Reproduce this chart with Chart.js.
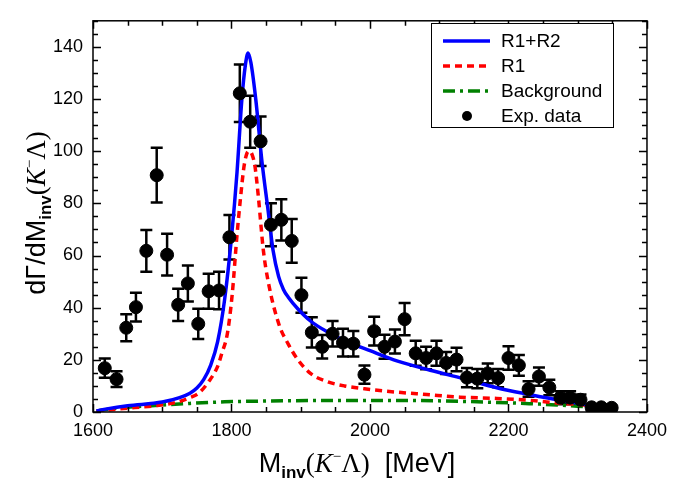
<!DOCTYPE html>
<html>
<head>
<meta charset="utf-8">
<script src="https://cdn.jsdelivr.net/npm/chart.js@4.4.1/dist/chart.umd.min.js"></script>
<style>
  html, body { margin: 0; padding: 0; background: #fff; }
  #wrap { width: 675px; height: 488px; }
</style>
</head>
<body>
<div id="wrap"><canvas id="spectrum" width="675" height="488"></canvas></div>
<script>
// experimental points (M_inv in MeV, rate, error)
const expMass = [1617, 1634, 1648, 1662, 1677, 1692, 1707, 1723, 1737, 1752, 1767, 1782, 1797,
  1812, 1827, 1842, 1857, 1872, 1887, 1901, 1916, 1931, 1946, 1961, 1976, 1992, 2006, 2021,
  2036, 2050, 2066, 2081, 2096, 2110, 2125, 2140, 2155, 2170, 2185, 2200, 2215, 2229, 2244,
  2259, 2275, 2289, 2304, 2320, 2334, 2349];
const expRate = [16.8, 12.6, 32.3, 40.2, 61.8, 90.8, 60.3, 41.1, 49.3, 33.8, 46.3, 46.6, 67,
  122.2, 111.3, 103.8, 71.8, 73.7, 65.6, 44.8, 30.5, 25, 30, 26.6, 26.2, 14.3, 31, 25,
  27, 35.6, 22.5, 20.7, 22.5, 18.8, 20.1, 13.2, 12.8, 14.8, 13, 20.7, 17.9, 8.8, 13.6,
  9.4, 5.5, 5.5, 4.7, 1.8, 1.8, 1.6];
const expErr = [3.7, 3, 5.2, 5.5, 8, 10.5, 8, 6.2, 6.9, 5.8, 6.7, 7.2, 8.5,
  11, 10, 9.5, 8.2, 7.9, 8.4, 6.7, 5.8, 4.5, 4.9, 5.3, 4.9, 3.5, 5.5, 4.6,
  4.6, 6.2, 4.8, 4.3, 4.8, 4.2, 4.5, 3.7, 3.7, 3.8, 3.5, 4.5, 4, 3, 3.5,
  3, 2.5, 2.5, 2, 1.2, 1, 0.8];

// R1+R2 curve
const totalMass = [1605, 1620, 1650, 1700, 1725, 1740, 1750, 1760, 1770, 1780, 1790, 1800, 1808,
  1815, 1820, 1824, 1828, 1835, 1844, 1853, 1860, 1868, 1875, 1882, 1896, 1915, 1940, 1963,
  2000, 2040, 2087, 2135, 2183, 2230, 2278, 2307, 2345, 2357];
const totalRate = [0.4, 1.2, 2.4, 3.8, 5.5, 7.2, 9.2, 12.5, 18, 27, 43, 67, 92,
  120, 133, 137.7, 134, 120, 96, 77, 62, 52, 47, 44, 39.5, 34.7, 30.5, 27.4,
  23.5, 19.5, 16, 12.8, 9.3, 6.7, 4.3, 3.1, 1.2, 0.6];

// R1 curve
const r1Mass = [1605, 1630, 1660, 1690, 1720, 1740, 1753, 1767, 1780, 1786, 1794, 1801, 1808,
  1813, 1818, 1822, 1826, 1830, 1834, 1839, 1846, 1853, 1868, 1882, 1896, 1915, 1939, 1963,
  1992, 2035, 2082, 2130, 2183, 2230, 2278, 2307, 2350];
const r1Rate = [0.3, 1.0, 1.7, 2.4, 3.7, 5.5, 7.3, 11.6, 17.5, 22.5, 30, 45, 68,
  82, 94, 99, 100, 98.5, 94, 82, 62, 50, 34, 26, 20, 14.6, 11.6, 10,
  8.9, 7.7, 6.7, 5.7, 5.2, 4.5, 3.3, 2.8, 1.5];

// background curve
const bgMass = [1605, 1620, 1650, 1690, 1740, 1790, 1850, 1950, 2050, 2130, 2180, 2230, 2270, 2310, 2340, 2355];
const bgRate = [0.3, 1.0, 1.8, 2.5, 3.3, 3.9, 4.2, 4.4, 4.4, 4.1, 3.7, 3.2, 2.7, 2.0, 1.0, 0.3];

const xTicks = [1600, 1800, 2000, 2200, 2400];
const yTicks = [0, 20, 40, 60, 80, 100, 120, 140];

const SANS = "'Liberation Sans', Arial, sans-serif";
const SERIF = "'Liberation Serif', 'Times New Roman', serif";

function toPoints(xs, ys) {
  return xs.map((x, i) => ({ x: x, y: ys[i] }));
}

// draw a row of text pieces (for sub/superscripts)
function piecesWidth(ctx, pieces) {
  let w = 0;
  pieces.forEach(p => { ctx.font = p.font; w += ctx.measureText(p.t).width; });
  return w;
}
function drawPieces(ctx, pieces, x, y) {
  pieces.forEach(p => {
    ctx.font = p.font;
    ctx.fillText(p.t, x, y + (p.dy || 0));
    x += ctx.measureText(p.t).width;
  });
}

function massPieces(lead) {
  return [
    { t: lead, font: "27px " + SANS },
    { t: "inv", font: "bold 17px " + SANS, dy: 6 },
    { t: "(", font: "27px " + SERIF },
    { t: "K", font: "italic 27px " + SERIF },
    { t: "\u2212", font: "15px " + SERIF, dy: -11 },
    { t: "\u039B", font: "27px " + SERIF },
    { t: ")", font: "27px " + SERIF }
  ];
}

const framePlugin = {
  id: "frame",
  beforeDatasetsDraw(chart) {
    // error bars under the markers
    const ctx = chart.ctx;
    const xs = chart.scales.x, ys = chart.scales.y;
    ctx.save();
    ctx.strokeStyle = "#000";
    ctx.lineWidth = 2.5;
    expMass.forEach((m, i) => {
      const px = xs.getPixelForValue(m);
      const top = ys.getPixelForValue(expRate[i] + expErr[i]);
      const bot = ys.getPixelForValue(Math.max(expRate[i] - expErr[i], 0));
      ctx.beginPath();
      ctx.moveTo(px, top); ctx.lineTo(px, bot);
      ctx.moveTo(px - 6, top); ctx.lineTo(px + 6, top);
      ctx.moveTo(px - 6, bot); ctx.lineTo(px + 6, bot);
      ctx.stroke();
    });
    ctx.restore();
  },
  afterDraw(chart) {
    const ctx = chart.ctx;
    const a = chart.chartArea;
    const xs = chart.scales.x, ys = chart.scales.y;
    ctx.save();
    ctx.strokeStyle = "#000";
    ctx.lineWidth = 1.5;
    ctx.strokeRect(a.left, a.top, a.right - a.left, a.bottom - a.top);

    // inward ticks on all four sides
    ctx.beginPath();
    for (let v = xs.min; v <= xs.max; v += 50) {
      const px = Math.round(xs.getPixelForValue(v)) + 0.5;
      const len = v % 200 === 0 ? 8 : 5;
      ctx.moveTo(px, a.bottom); ctx.lineTo(px, a.bottom - len);
      ctx.moveTo(px, a.top); ctx.lineTo(px, a.top + len);
    }
    for (let v = ys.min; v <= ys.max; v += 5) {
      const py = Math.round(ys.getPixelForValue(v)) + 0.5;
      const len = v % 20 === 0 ? 8 : 5;
      ctx.moveTo(a.left, py); ctx.lineTo(a.left + len, py);
      ctx.moveTo(a.right, py); ctx.lineTo(a.right - len, py);
    }
    ctx.stroke();

    // legend box
    const bx = 431, by = 23, bw = 182, bh = 104;
    ctx.fillStyle = "#fff";
    ctx.fillRect(bx, by, bw, bh);
    ctx.lineWidth = 1;
    ctx.strokeRect(bx + 0.5, by + 0.5, bw, bh);
    const rows = [41, 66, 91, 116];
    chart.data.datasets.forEach((ds, i) => {
      const y = rows[i];
      ctx.save();
      if (ds.showLine) {
        ctx.strokeStyle = ds.borderColor;
        ctx.lineWidth = ds.borderWidth;
        ctx.setLineDash(ds.borderDash || []);
        ctx.beginPath();
        ctx.moveTo(443, y); ctx.lineTo(490, y);
        ctx.stroke();
      } else {
        ctx.fillStyle = "#000";
        ctx.beginPath();
        ctx.arc(467, y, 5, 0, Math.PI * 2);
        ctx.fill();
      }
      ctx.restore();
      ctx.fillStyle = "#000";
      ctx.font = "19px " + SANS;
      ctx.textBaseline = "middle";
      ctx.fillText(ds.label, 501, y + 1);
    });

    // axis titles
    ctx.fillStyle = "#000";
    ctx.textBaseline = "alphabetic";
    const xt = massPieces("M").concat([{ t: "  [MeV]", font: "27px " + SANS }]);
    const xw = piecesWidth(ctx, xt);
    drawPieces(ctx, xt, 357 - xw / 2, 472);

    const yt = massPieces("d\u0393/dM");
    const yw = piecesWidth(ctx, yt);
    ctx.translate(45, 213);
    ctx.rotate(-Math.PI / 2);
    drawPieces(ctx, yt, -yw / 2, 0);
    ctx.restore();
  }
};

const ctx = document.getElementById("spectrum").getContext("2d");
new Chart(ctx, {
  type: "scatter",
  data: {
    datasets: [
      {
        label: "R1+R2",
        data: toPoints(totalMass, totalRate),
        showLine: true,
        borderColor: "#0000ff",
        borderWidth: 3.5,
        pointRadius: 0,
        cubicInterpolationMode: "monotone",
        order: 1
      },
      {
        label: "R1",
        data: toPoints(r1Mass, r1Rate),
        showLine: true,
        borderColor: "#ff0000",
        borderWidth: 3.5,
        borderDash: [7, 5],
        pointRadius: 0,
        cubicInterpolationMode: "monotone",
        order: 2
      },
      {
        label: "Background",
        data: toPoints(bgMass, bgRate),
        showLine: true,
        borderColor: "#008000",
        borderWidth: 3.5,
        borderDash: [12, 5, 3, 5],
        pointRadius: 0,
        cubicInterpolationMode: "monotone",
        order: 3
      },
      {
        label: "Exp. data",
        data: toPoints(expMass, expRate),
        pointRadius: 6.5,
        pointHoverRadius: 6.5,
        backgroundColor: "#000",
        borderColor: "#000",
        order: 0
      }
    ]
  },
  options: {
    responsive: false,
    animation: false,
    layout: { padding: { left: 0, right: 23, top: 2, bottom: 0 } },
    plugins: { legend: { display: false }, tooltip: { enabled: false } },
    scales: {
      x: {
        type: "linear",
        min: 1600,
        max: 2400,
        grid: { display: false, drawTicks: false },
        border: { display: false },
        afterBuildTicks: s => { s.ticks = xTicks.map(v => ({ value: v })); },
        afterFit: s => { s.height = 76; },
        ticks: {
          padding: 8,
          maxRotation: 0,
          autoSkip: false,
          color: "#000",
          font: { family: SANS, size: 18 },
          callback: v => String(v)
        }
      },
      y: {
        type: "linear",
        min: 0,
        max: 150,
        grid: { display: false, drawTicks: false },
        border: { display: false },
        afterBuildTicks: s => { s.ticks = yTicks.map(v => ({ value: v })); },
        afterFit: s => { s.width = 93; },
        ticks: {
          padding: 10,
          color: "#000",
          font: { family: SANS, size: 18 },
          callback: v => String(v)
        }
      }
    }
  },
  plugins: [framePlugin]
});
</script>
</body>
</html>
